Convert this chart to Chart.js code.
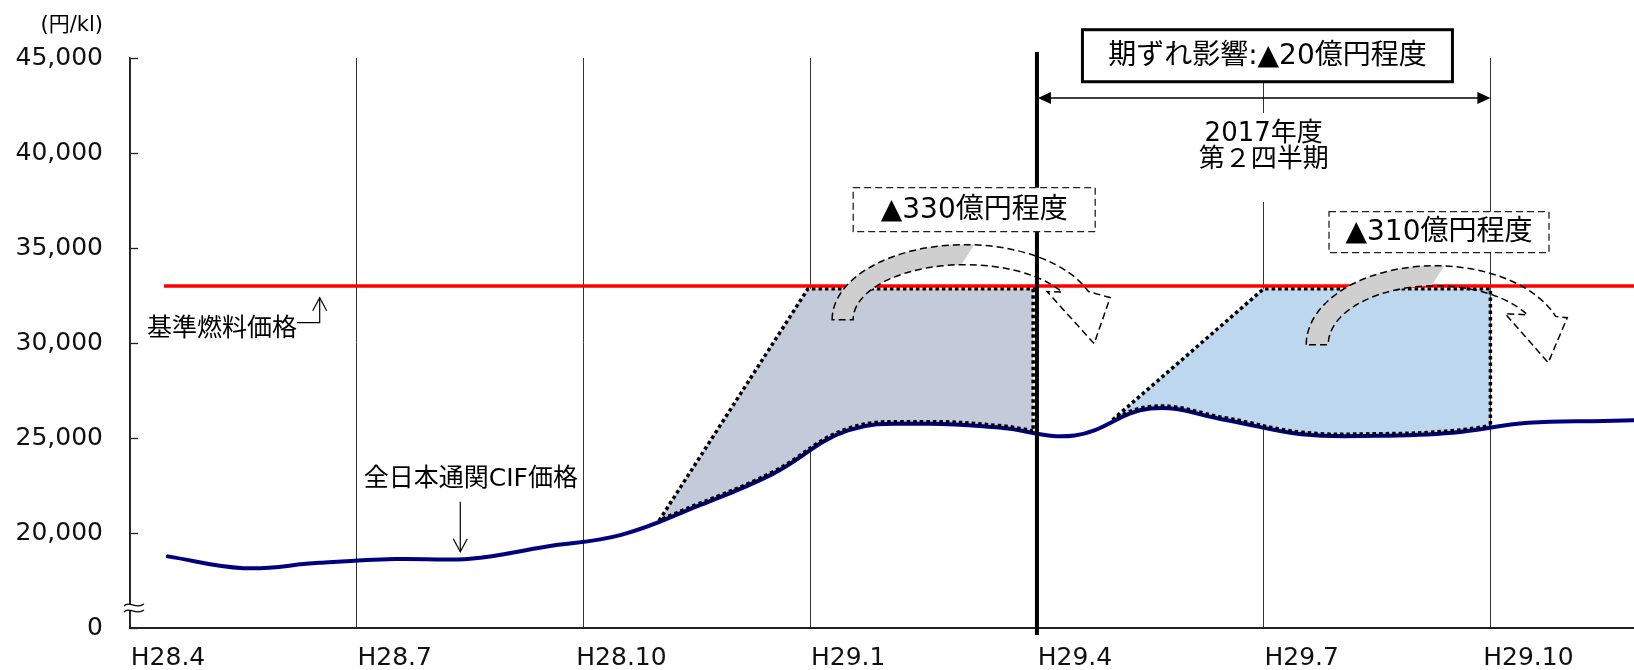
<!DOCTYPE html>
<html>
<head>
<meta charset="utf-8">
<script src="https://cdn.jsdelivr.net/npm/chart.js@4.4.0/dist/chart.umd.min.js"></script>
<style>
  html, body { margin: 0; padding: 0; background: #fff; }
  #wrap { width: 1634px; height: 670px; }
</style>
</head>
<body>
<div id="wrap"><canvas id="c" width="1634" height="670"></canvas></div>
<script>
// Months counted from the start of H28.4 (0); monthly averages sit mid-month.
const monthPositions = [0.5, 1.5, 2.5, 3.5, 4.5, 5.5, 6.5, 7.5, 8.5, 9.5, 10.5, 11.5, 12.5, 13.5, 14.5, 15.5, 16.5, 17.5, 18.5, 19.5, 20.5];
// 全日本通関CIF価格 (円/kl)
const cifPrice = [18770, 18150, 18430, 18630, 18650, 19280, 19900, 21400, 23100, 25400, 25750, 25550, 25130, 26550, 25950, 25200, 25120, 25280, 25800, 25900, 26000];
// 基準燃料価格 (円/kl)
const baseMonths = [0.45, 20.5];
const basePrice = [33000, 33000];
// Gap areas between the reference price and the CIF price (outline points)
const gap1Months = [7, 8.97, 11.95, 11.95];
const gap1Prices = [20650, 32850, 32850, 25290];
const gap2Months = [13, 15, 18, 18];
const gap2Prices = [25950, 32850, 32850, 25480];
// Axis ticks
const xTickMonths = [0, 3, 6, 9, 12, 15, 18];
const xTickLabels = ['H28.4', 'H28.7', 'H28.10', 'H29.1', 'H29.4', 'H29.7', 'H29.10'];
const yTickValues = [15000, 20000, 25000, 30000, 35000, 40000, 45000];
const yTickLabels = ['0', '20,000', '25,000', '30,000', '35,000', '40,000', '45,000'];

const FONT = '"DejaVu Sans", "Noto Sans CJK JP", sans-serif';
const toPts = (xs, ys) => xs.map((x, i) => ({ x: x, y: ys[i] }));

function curvedArrow(ctx, cx, cy, s) {
  const d = Math.PI / 180;
  // shaded tail of the arrow
  ctx.beginPath();
  ctx.ellipse(cx, cy, s.rxO, s.ryO, 0, Math.PI, s.grayO * d, false);
  ctx.ellipse(cx, cy, s.rxI, s.ryI, 0, s.grayI * d, Math.PI, true);
  ctx.closePath();
  ctx.fillStyle = '#cfcfcf';
  ctx.fill();
  // dashed outline of the whole arrow
  ctx.beginPath();
  ctx.ellipse(cx, cy, s.rxO, s.ryO, 0, Math.PI, 2 * Math.PI - s.endO * d, false);
  ctx.lineTo(cx + s.barbR[0], cy + s.barbR[1]);
  ctx.lineTo(cx + s.tip[0], cy + s.tip[1]);
  ctx.lineTo(cx + s.barbL[0], cy + s.barbL[1]);
  ctx.ellipse(cx, cy, s.rxI, s.ryI, 0, 2 * Math.PI - s.endI * d, Math.PI, true);
  ctx.closePath();
  ctx.setLineDash([7, 4]);
  ctx.lineWidth = 1.5;
  ctx.strokeStyle = '#000';
  ctx.stroke();
  ctx.setLineDash([]);
}

function dashedBox(ctx, cx, cy, w, h, text, size) {
  ctx.fillStyle = '#fff';
  ctx.fillRect(cx - w / 2, cy - h / 2, w, h);
  ctx.setLineDash([7, 4]);
  ctx.lineWidth = 1.3;
  ctx.strokeStyle = '#222';
  ctx.strokeRect(cx - w / 2, cy - h / 2, w, h);
  ctx.setLineDash([]);
  ctx.fillStyle = '#000';
  ctx.font = size + 'px ' + FONT;
  ctx.textAlign = 'center';
  ctx.textBaseline = 'middle';
  ctx.fillText(text, cx, cy + 1);
}

function openHead(ctx, x, y, dir) {
  // open V arrowhead; dir = -1 points up, 1 points down
  ctx.beginPath();
  ctx.moveTo(x - 7, y - dir * 13);
  ctx.lineTo(x, y);
  ctx.lineTo(x + 7, y - dir * 13);
  ctx.stroke();
}

const annotations = {
  id: 'annotations',
  afterDraw(chart) {
    const { ctx, chartArea: ca, scales: { x, y } } = chart;
    const px = m => x.getPixelForValue(m);
    const py = v => y.getPixelForValue(v);
    ctx.save();

    // inward tick marks on the value axis
    ctx.strokeStyle = '#222';
    ctx.lineWidth = 1.3;
    yTickValues.forEach(v => {
      const yy = Math.round(py(v)) + 0.5;
      ctx.beginPath(); ctx.moveTo(ca.left, yy); ctx.lineTo(ca.left + 8, yy); ctx.stroke();
    });

    // axis break mark
    const by = py(15000) - 21;
    const wave = (yy) => { ctx.moveTo(ca.left - 6, yy + 2); ctx.bezierCurveTo(ca.left - 1, yy - 4, ca.left + 6, yy + 6, ca.left + 14, yy); };
    ctx.beginPath();
    wave(by - 3);
    ctx.lineTo(ca.left + 14, by + 3);
    ctx.bezierCurveTo(ca.left + 6, by + 9, ca.left - 1, by - 1, ca.left - 6, by + 5);
    ctx.closePath();
    ctx.fillStyle = '#fff'; ctx.fill();
    ctx.beginPath(); wave(by - 3); wave(by + 3);
    ctx.lineWidth = 1.2; ctx.strokeStyle = '#000'; ctx.stroke();

    // fiscal year boundary at H29.4
    ctx.lineWidth = 4;
    ctx.strokeStyle = '#000';
    ctx.beginPath(); ctx.moveTo(px(12), ca.top - 6); ctx.lineTo(px(12), ca.bottom + 7); ctx.stroke();

    // dotted lower edge of the gap areas, following the CIF curve
    const line = chart.getDatasetMeta(0).dataset;
    [[gap1Months[0], gap1Months[3]], [gap2Months[0], gap2Months[3]]].forEach(([a, b]) => {
      ctx.save();
      ctx.beginPath(); ctx.rect(px(a), ca.top, px(b) - px(a), ca.bottom - ca.top); ctx.clip();
      ctx.translate(0, -2);
      ctx.setLineDash([3.5, 3]); ctx.lineWidth = 3.5; ctx.strokeStyle = '#000'; ctx.lineCap = 'butt';
      ctx.beginPath(); line.path(ctx); ctx.stroke();
      ctx.restore();
    });

    // carry-over arrows
    curvedArrow(ctx, px(11.05), py(31230), {
      rxO: 133, ryO: 75, rxI: 112, ryI: 55, endO: 22, endI: 30, grayO: 274, grayI: 268,
      barbL: [82, -28], barbR: [145, -22], tip: [129, 24]
    });
    curvedArrow(ctx, px(17.27), py(29910), {
      rxO: 129, ryO: 79, rxI: 107, ryI: 59, endO: 21, endI: 30.5, grayO: 274, grayI: 268,
      barbL: [70, -31], barbR: [132, -27], tip: [113, 18]
    });

    // amount boxes
    dashedBox(ctx, px(11.17), py(37016), 242, 44, '▲330億円程度', 28);
    dashedBox(ctx, px(17.32), py(35832), 220, 41, '▲310億円程度', 28);

    // quarter span arrow
    const ay = py(42895), ax0 = px(12) + 1, ax1 = px(18);
    ctx.lineWidth = 1.5; ctx.strokeStyle = '#000'; ctx.fillStyle = '#000';
    ctx.beginPath(); ctx.moveTo(ax0 + 10, ay); ctx.lineTo(ax1 - 10, ay); ctx.stroke();
    ctx.beginPath(); ctx.moveTo(ax0, ay); ctx.lineTo(ax0 + 13, ay - 6); ctx.lineTo(ax0 + 13, ay + 6); ctx.closePath(); ctx.fill();
    ctx.beginPath(); ctx.moveTo(ax1, ay); ctx.lineTo(ax1 - 13, ay - 6); ctx.lineTo(ax1 - 13, ay + 6); ctx.closePath(); ctx.fill();

    // quarter label
    const qx = px(15);
    ctx.fillStyle = '#fff';
    ctx.fillRect(qx - 75, ay + 15, 150, 89);
    ctx.fillStyle = '#000';
    ctx.font = '26px ' + FONT;
    ctx.textAlign = 'center'; ctx.textBaseline = 'middle';
    ctx.fillText('2017年度', qx, py(41121) + 3);
    ctx.fillText('第２四半期', qx, py(39753) + 3);

    // period gap box
    const bx = px(15.05), bY = py(45120);
    ctx.fillStyle = '#fff';
    ctx.fillRect(bx - 185, bY - 26, 370, 52);
    ctx.lineWidth = 3; ctx.strokeStyle = '#000';
    ctx.strokeRect(bx - 185, bY - 26, 370, 52);
    ctx.fillStyle = '#000';
    ctx.font = '28px ' + FONT;
    ctx.fillText('期ずれ影響:▲20億円程度', bx, bY + 1);

    // series labels
    ctx.font = '25px ' + FONT;
    ctx.textAlign = 'left';
    const lx = px(0.225), lyT = py(30700);
    ctx.fillText('基準燃料価格', lx, lyT);
    const lr = lx + ctx.measureText('基準燃料価格').width;
    const hy = py(31068), vx = px(2.51), vTop = py(32384);
    ctx.lineWidth = 1.2; ctx.strokeStyle = '#000';
    ctx.beginPath(); ctx.moveTo(lr, hy); ctx.lineTo(vx, hy); ctx.lineTo(vx, vTop); ctx.stroke();
    openHead(ctx, vx, vTop, -1);

    ctx.textAlign = 'center';
    ctx.fillText('全日本通関CIF価格', px(4.51), py(22805));
    const dx = px(4.37);
    ctx.beginPath(); ctx.moveTo(dx, py(21647)); ctx.lineTo(dx, py(19016)); ctx.stroke();
    openHead(ctx, dx, py(19016), 1);

    // unit
    ctx.font = '21px ' + FONT;
    ctx.textAlign = 'right';
    ctx.fillText('(円/kl)', ca.left - 27, ca.top - 32);

    ctx.restore();
  }
};

new Chart(document.getElementById('c'), {
  type: 'line',
  data: {
    datasets: [
      {
        label: '全日本通関CIF価格',
        data: toPts(monthPositions, cifPrice),
        borderColor: '#00007e', borderWidth: 4, tension: 0.4,
        pointRadius: 0, fill: false, borderCapStyle: 'round'
      },
      {
        label: '基準燃料価格',
        data: toPts(baseMonths, basePrice),
        borderColor: '#ff0000', borderWidth: 3.5, pointRadius: 0, fill: false
      },
      {
        label: '期ずれ(1)',
        data: toPts(gap1Months, gap1Prices),
        borderColor: '#000', borderWidth: 3.5, borderDash: [3.5, 3], borderCapStyle: 'butt',
        pointRadius: 0, tension: 0,
        fill: { target: 0 }, backgroundColor: '#c3cad9'
      },
      {
        label: '期ずれ(2)',
        data: toPts(gap2Months, gap2Prices),
        borderColor: '#000', borderWidth: 3.5, borderDash: [3.5, 3], borderCapStyle: 'butt',
        pointRadius: 0, tension: 0,
        fill: { target: 0 }, backgroundColor: '#bdd7ee'
      }
    ]
  },
  options: {
    responsive: false,
    animation: false,
    layout: { padding: { top: 58, right: 0, bottom: 0, left: 0 } },
    plugins: { legend: { display: false }, tooltip: { enabled: false } },
    scales: {
      x: {
        type: 'linear', min: 0, max: 19.9, z: 1,
        afterBuildTicks: s => { s.ticks = xTickMonths.map(v => ({ value: v })); },
        afterFit: s => { s.height = 42; },
        grid: { color: '#333', lineWidth: 1, drawTicks: false },
        border: { color: '#222', width: 2 },
        ticks: {
          autoSkip: false, maxRotation: 0, padding: 15, labelOffset: 38,
          color: '#111', font: { family: FONT, size: 25 },
          callback: (v, i) => xTickLabels[i]
        }
      },
      y: {
        type: 'linear', min: 15000, max: 45000,
        afterBuildTicks: s => { s.ticks = yTickValues.map(v => ({ value: v })); },
        afterFit: s => { s.width = 130; },
        grid: { drawOnChartArea: false, drawTicks: false },
        border: { color: '#222', width: 1.5 },
        ticks: {
          padding: 27, color: '#111', font: { family: FONT, size: 25 },
          callback: (v, i) => yTickLabels[i]
        }
      }
    }
  },
  plugins: [annotations]
});
</script>
</body>
</html>
